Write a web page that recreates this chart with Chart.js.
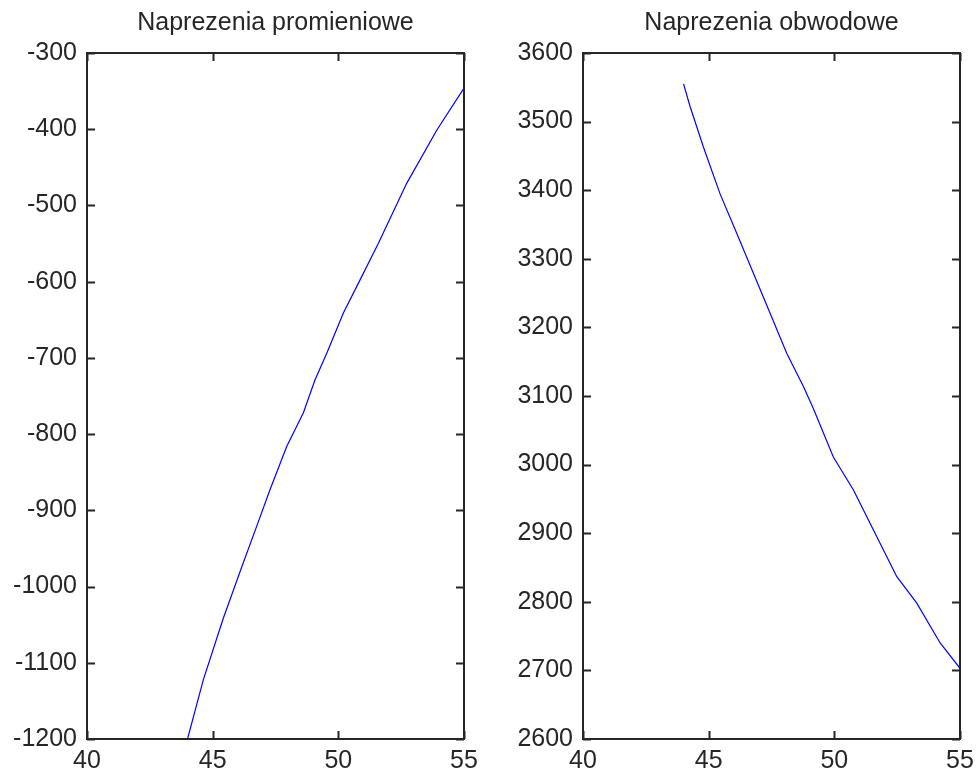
<!DOCTYPE html>
<html>
<head>
<meta charset="utf-8">
<script src="https://cdn.jsdelivr.net/npm/chart.js@4/dist/chart.umd.min.js"></script>
<style>
    html, body { margin: 0; padding: 0; background: #fff; }
    .pane { position: absolute; top: 0; width: 488px; height: 776px; }
</style>
</head>
<body>
<div class="pane" style="left:0"><canvas id="radial"></canvas></div>
<div class="pane" style="left:488px"><canvas id="hoop"></canvas></div>
<script>
// Data
const radialR = [44.0, 44.63, 45.42, 46.16, 46.75, 47.28, 47.95, 48.61, 49.07, 49.54, 50.2, 50.86, 51.59, 52.72, 53.92, 55.0];
const radialStress = [-1200, -1122, -1042, -974, -921, -873, -816, -772, -729, -694, -641, -598, -550, -471, -401, -346];

const hoopR = [44.0, 44.26, 44.79, 45.45, 46.12, 46.78, 47.44, 48.11, 48.77, 49.16, 49.96, 50.76, 51.55, 52.48, 53.28, 54.21, 55.0];
const hoopStress = [3555, 3522, 3463, 3395, 3337, 3279, 3221, 3162, 3114, 3082, 3011, 2963, 2905, 2837, 2798, 2740, 2703];

const xTicks = [40, 45, 50, 55];
const radialTicks = [-1200, -300];
const hoopTicks = [2600, 3600];

const FONT = { family: '"Liberation Sans", Arial, sans-serif', size: 25 };
const INK = '#262626';

// MATLAB-style box with inward ticks on all four sides
const boxPlugin = {
    id: 'matlabBox',
    afterDraw(chart) {
        const { ctx, chartArea: a, scales } = chart;
        const len = 8;
        ctx.save();
        ctx.strokeStyle = INK;
        ctx.lineWidth = 2;
        ctx.beginPath();
        scales.x.ticks.forEach(t => {
            const px = Math.round(scales.x.getPixelForValue(t.value)) + 0.5;
            ctx.moveTo(px, a.bottom); ctx.lineTo(px, a.bottom - len);
            ctx.moveTo(px, a.top); ctx.lineTo(px, a.top + len);
        });
        scales.y.ticks.forEach(t => {
            const py = Math.round(scales.y.getPixelForValue(t.value)) + 0.5;
            ctx.moveTo(a.left, py); ctx.lineTo(a.left + len, py);
            ctx.moveTo(a.right, py); ctx.lineTo(a.right - len, py);
        });
        ctx.stroke();
        ctx.strokeRect(a.left, a.top, a.right - a.left, a.bottom - a.top);
        ctx.restore();
    }
};

function makeChart(id, title, xs, ys, yRange, yAxisWidth, rightPad) {
    const points = xs.map((x, i) => ({ x: x, y: ys[i] }));
    return new Chart(document.getElementById(id), {
        type: 'line',
        data: {
            datasets: [{
                data: points,
                borderColor: '#0000ff',
                borderWidth: 1.2,
                pointRadius: 0,
                tension: 0,
                fill: false
            }]
        },
        options: {
            responsive: true,
            maintainAspectRatio: false,
            animation: false,
            layout: { padding: { left: 0, right: rightPad, top: 0, bottom: 0 } },
            plugins: {
                legend: { display: false },
                tooltip: { enabled: false },
                title: {
                    display: true,
                    text: title,
                    fullSize: false,
                    color: INK,
                    font: { family: FONT.family, size: 25, weight: 'normal' },
                    padding: { top: 8, bottom: 15 }
                }
            },
            scales: {
                x: {
                    type: 'linear',
                    min: xTicks[0],
                    max: xTicks[xTicks.length - 1],
                    ticks: { stepSize: 5, color: INK, font: FONT, padding: 7, maxRotation: 0 },
                    grid: { display: false, drawTicks: false },
                    border: { display: false },
                    afterFit: s => { s.height = 37; s.paddingLeft = 0; s.paddingRight = 0; }
                },
                y: {
                    min: yRange[0],
                    max: yRange[1],
                    ticks: { stepSize: 100, color: INK, font: FONT, padding: 10, callback: v => String(v) },
                    grid: { display: false, drawTicks: false },
                    border: { display: false },
                    afterFit: s => { s.width = yAxisWidth; s.paddingTop = 0; s.paddingBottom = 0; }
                }
            }
        },
        plugins: [boxPlugin]
    });
}

makeChart('radial', 'Naprezenia promieniowe', radialR, radialStress, radialTicks, 87, 24);
makeChart('hoop', 'Naprezenia obwodowe', hoopR, hoopStress, hoopTicks, 95, 16);
</script>
</body>
</html>
